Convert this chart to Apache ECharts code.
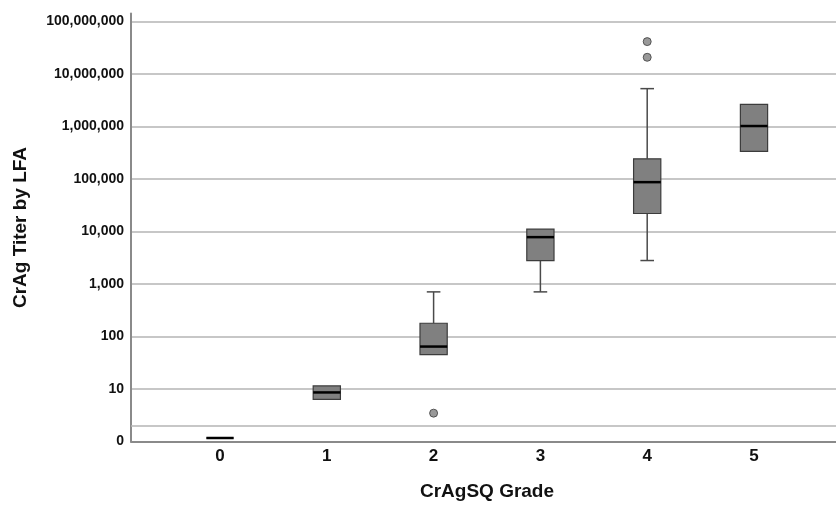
<!DOCTYPE html>
<html>
<head>
    <meta charset="utf-8">
    <title>CrAg Titer by LFA</title>
    <script src="https://cdn.jsdelivr.net/npm/echarts@6/dist/echarts.min.js"></script>
    <style>
        html, body { margin: 0; padding: 0; background: #fff; }
    </style>
</head>
<body>
    <div id="main" style="width: 836px;height:506px;"></div>
    <script type="text/javascript">
        // categories (CrAgSQ grade)
        var grades = ['0', '1', '2', '3', '4', '5'];
        // box stats per grade: [min, q1, median, q3, max]
        var boxStats = [
            [1, 1, 1, 1, 1],
            [5.5, 5.5, 7.5, 10, 10],
            [40, 40, 57, 160, 640],
            [640, 2560, 7200, 10240, 10240],
            [2560, 20480, 81920, 230000, 5120000],
            [320000, 320000, 980000, 2560000, 2560000]
        ];
        // outliers: [grade index, titer]
        var outliers = [[2, 3], [4, 20480000], [4, 40960000]];
        // y tick values are powers of ten; value 1 is shown as "0"
        var extraLine = 2;

        var yMin = 1, yMax = 1.42e8;
        var myChart = echarts.init(document.getElementById('main'));

        var boxData = boxStats.map(function (s, i) { return [i].concat(s); });

        function yLabel(v) {
            v = Math.round(v);
            if (v === 1) return '0';
            return v.toLocaleString('en-US');
        }

        var gridCol = '#b5b5b5';
        var axisCol = '#8a8a8a';

        var option = {
            animation: false,
            textStyle: { fontFamily: 'Liberation Sans, Arial, sans-serif' },
            grid: [
                { left: 131, right: 0, top: 13.5, bottom: 64.5 },
                { left: 166.6, width: 640.8, top: 13.5, bottom: 64.5 }
            ],
            xAxis: [
                {
                    type: 'value', gridIndex: 0, min: 0, max: 1,
                    axisLine: { show: true, lineStyle: { color: axisCol, width: 2 } },
                    axisTick: { show: false }, axisLabel: { show: false },
                    splitLine: { show: false }
                },
                {
                    type: 'category', gridIndex: 1, data: grades,
                    axisLine: { show: false }, axisTick: { show: false },
                    axisLabel: { color: '#111', fontSize: 17, fontWeight: 'bold', margin: 10 },
                    name: 'CrAgSQ Grade', nameLocation: 'middle', nameGap: 44,
                    nameTextStyle: { color: '#111', fontSize: 19, fontWeight: 'bold' }
                }
            ],
            yAxis: [
                {
                    type: 'log', gridIndex: 0, min: yMin, max: yMax, logBase: 10,
                    axisLine: { show: true, lineStyle: { color: axisCol, width: 2 } },
                    axisTick: { show: false },
                    axisLabel: {
                        color: '#111', fontSize: 14, fontWeight: 'bold', margin: 7,
                        showMaxLabel: false, formatter: yLabel
                    },
                    splitLine: { show: true, showMaxLine: false, lineStyle: { color: gridCol, width: 1.5 } },
                    name: 'CrAg Titer by LFA', nameLocation: 'middle', nameGap: 101,
                    nameTextStyle: { color: '#111', fontSize: 19, fontWeight: 'bold' }
                },
                {
                    type: 'log', gridIndex: 1, min: yMin, max: yMax, logBase: 10, show: false
                }
            ],
            series: [
                {
                    type: 'scatter', xAxisIndex: 0, yAxisIndex: 0, data: [],
                    silent: true,
                    markLine: {
                        silent: true, symbol: 'none', label: { show: false },
                        lineStyle: { color: gridCol, width: 1.5, type: 'solid' },
                        data: [{ yAxis: extraLine }]
                    }
                },
                {
                    type: 'custom', xAxisIndex: 1, yAxisIndex: 1, data: boxData,
                    z: 5, clip: false,
                    renderItem: function (params, api) {
                        var x = api.value(0);
                        var pMin = api.coord([x, api.value(1)]);
                        var pQ1 = api.coord([x, api.value(2)]);
                        var pMed = api.coord([x, api.value(3)]);
                        var pQ3 = api.coord([x, api.value(4)]);
                        var pMax = api.coord([x, api.value(5)]);
                        var bw = api.size([1, 0])[0] * 0.255;
                        var cx = pMed[0];
                        var children = [];
                        var wStyle = { stroke: '#4a4a4a', lineWidth: 1.5 };
                        if (pMax[1] < pQ3[1] - 0.5) {
                            children.push({ type: 'line', shape: { x1: cx, y1: pMax[1], x2: cx, y2: pQ3[1] }, style: wStyle });
                            children.push({ type: 'line', shape: { x1: cx - bw / 4, y1: pMax[1], x2: cx + bw / 4, y2: pMax[1] }, style: wStyle });
                        }
                        if (pMin[1] > pQ1[1] + 0.5) {
                            children.push({ type: 'line', shape: { x1: cx, y1: pQ1[1], x2: cx, y2: pMin[1] }, style: wStyle });
                            children.push({ type: 'line', shape: { x1: cx - bw / 4, y1: pMin[1], x2: cx + bw / 4, y2: pMin[1] }, style: wStyle });
                        }
                        children.push({
                            type: 'rect',
                            shape: { x: cx - bw / 2, y: pQ3[1], width: bw, height: pQ1[1] - pQ3[1] },
                            style: { fill: '#808080', stroke: '#3c3c3c', lineWidth: 1.2 }
                        });
                        children.push({
                            type: 'line',
                            shape: { x1: cx - bw / 2, y1: pMed[1], x2: cx + bw / 2, y2: pMed[1] },
                            style: { stroke: '#000', lineWidth: 2.5 }
                        });
                        return { type: 'group', children: children };
                    }
                },
                {
                    type: 'scatter', xAxisIndex: 1, yAxisIndex: 1, data: outliers,
                    symbolSize: 8, z: 6,
                    itemStyle: { color: '#808080', borderColor: '#3c3c3c', borderWidth: 1 }
                }
            ]
        };
        myChart.setOption(option);
    </script>
</body>
</html>
